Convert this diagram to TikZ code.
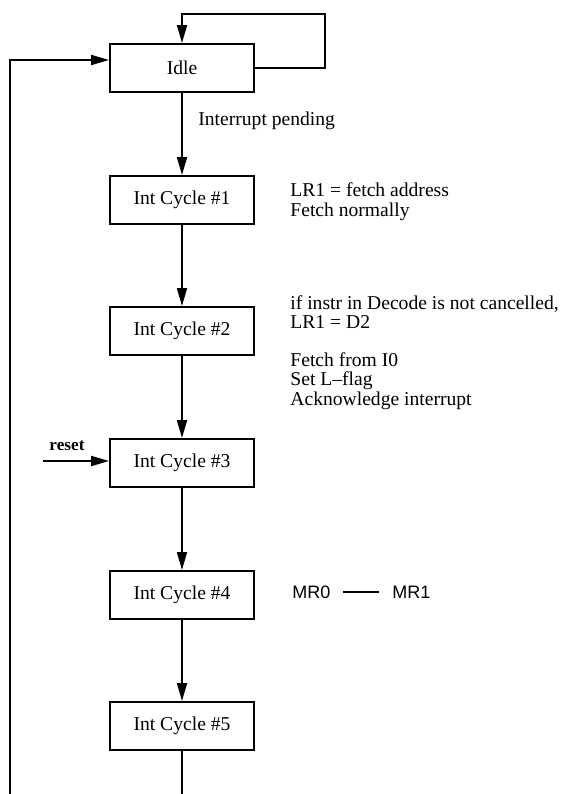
\documentclass[tikz,border=0pt]{standalone}
\usepackage{fontspec}
\setmainfont{Liberation Serif}
\newfontfamily\helv{Liberation Sans}
\usetikzlibrary{arrows.meta}

\tikzset{
  state/.style={draw,line width=1pt,minimum width=72pt,minimum height=24pt,inner sep=0pt,font=\fontsize{9.8}{9.8}\selectfont},
  note/.style={anchor=west,align=left,inner sep=0pt,font=\fontsize{9.8}{9.8}\selectfont},
  arr/.style={line width=1pt,-{Triangle[length=9pt,width=5pt]}},
  wire/.style={line width=1pt},
}

\begin{document}
\begin{tikzpicture}[x=0.5pt,y=-0.5pt]
\useasboundingbox (0,0) rectangle (561,794);
\node[state] (idle) at (182,68) {Idle};
\foreach \n/\y in {1/200,2/331,3/463,4/595,5/726} {\node[state] (c\n) at (182,\y) {Int Cycle \#\n};}
\draw[arr] (idle) -- (c1);
\foreach \a/\b in {1/2,2/3,3/4,4/5} {\draw[arr] (c\a) -- (c\b);}
% self loop on Idle
\coordinate (loop) at (325,14);
\draw[arr] (idle.east) -| (loop) -| (idle.north);
% return path from the bottom
\coordinate (lb) at (10,794);
\coordinate (bot) at (182,794);
\draw[wire] (c5) -- (bot);
\draw[arr] (lb) |- ([yshift=4pt]idle.west);
% reset input
\coordinate (rst) at (43,461);
\node[font=\fontsize{8.6}{8.6}\selectfont\bfseries,inner sep=0pt] (rlab) at (67,446) {reset};
\draw[arr] (rst) -- (rst -| c3.west);
% notes
\node[note] (ip) at (198,121) {Interrupt pending};
\node[note] (n1) at (290,202) {LR1 = fetch address\\Fetch normally};
\node[note] (n2) at (290,312) {if instr in Decode is not cancelled,\\LR1 = D2};
\node[note] (n3) at (290,381) {Fetch from I0\\Set L--flag\\Acknowledge interrupt};
\node[note,font=\helv\fontsize{9}{9}\selectfont] (mr0) at (292,592) {MR0};
\node[note,font=\helv\fontsize{9}{9}\selectfont] (mr1) at (392,592) {MR1};
\draw[wire,shorten <=6pt,shorten >=6.5pt] (mr0.east) -- (mr1.west);
\end{tikzpicture}
\end{document}
